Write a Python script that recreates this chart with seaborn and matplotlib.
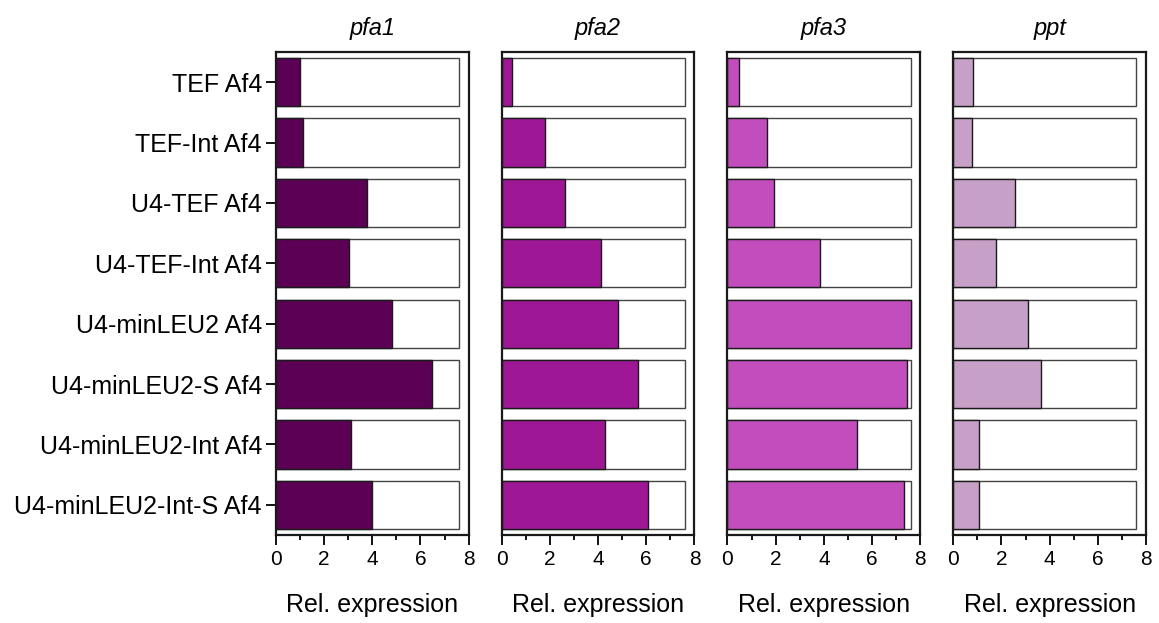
import numpy as np
import pandas as pd
import matplotlib
matplotlib.use("Agg")
import matplotlib.pyplot as plt
from matplotlib.ticker import MultipleLocator
import seaborn as sns

# Constructs (rows, top to bottom)
constructs = [
    "TEF Af4",
    "TEF-Int Af4",
    "U4-TEF Af4",
    "U4-TEF-Int Af4",
    "U4-minLEU2 Af4",
    "U4-minLEU2-S Af4",
    "U4-minLEU2-Int Af4",
    "U4-minLEU2-Int-S Af4",
]

genes = ["pfa1", "pfa2", "pfa3", "ppt"]

# Relative expression per gene
pfa1 = [1.02, 1.12, 3.80, 3.03, 4.81, 6.46, 3.10, 3.97]
pfa2 = [0.44, 1.80, 2.62, 4.13, 4.83, 5.65, 4.30, 6.06]
pfa3 = [0.46, 1.66, 1.95, 3.83, 7.60, 7.45, 5.37, 7.33]
ppt = [0.83, 0.77, 2.56, 1.77, 3.10, 3.63, 1.06, 1.08]

# Full-scale reference drawn behind every bar
full_scale = [7.60] * len(constructs)

gene_colors = ["#5C0055", "#9E1896", "#C24DBC", "#C6A0C6"]

sns.set_style("ticks")
plt.rcParams["font.family"] = ["Liberation Sans", "DejaVu Sans"]
plt.rcParams["text.color"] = "black"
plt.rcParams["axes.labelcolor"] = "black"
plt.rcParams["xtick.color"] = "black"
plt.rcParams["ytick.color"] = "black"

values = {"pfa1": pfa1, "pfa2": pfa2, "pfa3": pfa3, "ppt": ppt}

fig = plt.figure(figsize=(11.59, 6.23), dpi=100)
gs = fig.add_gridspec(1, 4, left=0.238, right=0.9888, bottom=0.1413,
                      top=0.9165, wspace=0.171)

for i, gene in enumerate(genes):
    ax = fig.add_subplot(gs[0, i])
    bg = pd.DataFrame({"construct": constructs, "value": full_scale})
    fg = pd.DataFrame({"construct": constructs, "value": values[gene]})
    sns.barplot(data=bg, x="value", y="construct", orient="y", color="white",
                edgecolor="#444444", linewidth=1.0, width=0.8, ax=ax,
                saturation=1)
    sns.barplot(data=fg, x="value", y="construct", orient="y",
                color=gene_colors[i], edgecolor="#1a1a1a", linewidth=1.0,
                width=0.8, ax=ax, saturation=1)

    ax.set_xlim(0, 8)
    ax.set_ylim(len(constructs) - 0.5, -0.5)
    ax.xaxis.set_major_locator(MultipleLocator(2))
    ax.xaxis.set_minor_locator(MultipleLocator(1))
    ax.tick_params(axis="x", which="major", length=7, width=1.4,
                   labelsize=15, pad=4, color="#111111")
    ax.tick_params(axis="x", which="minor", length=3.5, width=1.4,
                   color="#111111")
    for side in ["top", "right", "bottom", "left"]:
        ax.spines[side].set_visible(True)
        ax.spines[side].set_linewidth(1.6)
        ax.spines[side].set_color("#1a1a1a")

    ax.set_xlabel("Rel. expression", fontsize=18, labelpad=17)
    ax.set_ylabel("")
    ax.set_title(gene, fontsize=17, style="italic", pad=12)

    if i == 0:
        ax.tick_params(axis="y", length=7, width=1.4, labelsize=18,
                       pad=3, color="#111111")
    else:
        ax.tick_params(axis="y", left=False, labelleft=False)

fig.savefig("out.png", dpi=100, facecolor="white")
